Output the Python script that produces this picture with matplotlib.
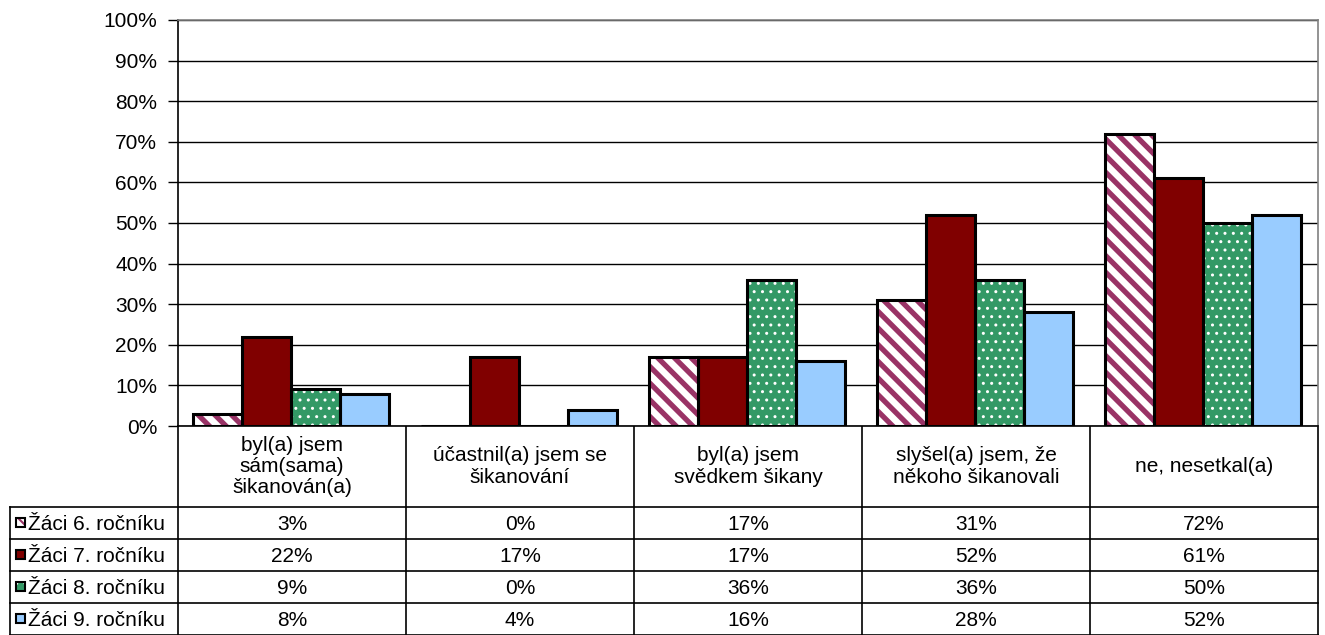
import numpy as np
import matplotlib.pyplot as plt
from matplotlib.patches import Rectangle
from matplotlib.ticker import FuncFormatter

plt.rcParams['font.family'] = ['Liberation Sans', 'DejaVu Sans']

categories = ['byl(a) jsem\nsám(sama)\nšikanován(a)',
              'účastnil(a) jsem se\nšikanování',
              'byl(a) jsem\nsvědkem šikany',
              'slyšel(a) jsem, že\nněkoho šikanovali',
              'ne, nesetkal(a)']
series_names = ['Žáci 6. ročníku', 'Žáci 7. ročníku', 'Žáci 8. ročníku', 'Žáci 9. ročníku']
zaci6 = [3, 0, 17, 31, 72]
zaci7 = [22, 17, 17, 52, 61]
zaci8 = [9, 0, 36, 36, 50]
zaci9 = [8, 4, 16, 28, 52]
yticks = list(range(0, 101, 10))

all_series = [zaci6, zaci7, zaci8, zaci9]
# style per series: face, hatch colour, hatch, hatch linewidth
styles = [('white', '#993366', '\\\\', 3.8),
          ('#800000', None, None, 0),
          ('#339966', 'white', '..', 1.0),
          ('#99CCFF', None, None, 0)]

FS = 15
W, H = 1325, 635
fig = plt.figure(figsize=(W / 100, H / 100), dpi=100)

# plot area in pixel units
L, R, T, B = 178, 1318, 20, 426
ax = fig.add_axes([L / W, 1 - B / H, (R - L) / W, (B - T) / H])


def styled_rect(axis, x, y, w, h, st, lw, z=3):
    face, hcol, hatch, hlw = st
    if hatch:
        p = Rectangle((x, y), w, h, facecolor=face, edgecolor=hcol,
                      hatch=hatch, linewidth=0, zorder=z)
        if hasattr(p, 'set_hatch_linewidth'):
            p.set_hatch_linewidth(min(hlw, 1.5))
        axis.add_patch(p)
        axis.add_patch(Rectangle((x, y), w, h, facecolor='none',
                                 edgecolor='black', linewidth=lw, zorder=z + 0.1))
    else:
        axis.add_patch(Rectangle((x, y), w, h, facecolor=face,
                                 edgecolor='black', linewidth=lw, zorder=z))


n = len(categories)
bw = 0.215
off = 0.066
x = np.arange(n)
for j, vals in enumerate(all_series):
    face, hcol, hatch, hlw = styles[j]
    if hatch:
        bars = ax.bar(x + off + j * bw, vals, bw, align='edge', color=face,
                      edgecolor=hcol, hatch=hatch, linewidth=0, zorder=3)
        for b in bars:
            if hasattr(b, 'set_hatch_linewidth'):
                b.set_hatch_linewidth(hlw)
        ax.bar(x + off + j * bw, vals, bw, align='edge', color='none',
               edgecolor='black', linewidth=2.2, zorder=3.1)
    else:
        ax.bar(x + off + j * bw, vals, bw, align='edge', color=face,
               edgecolor='black', linewidth=2.2, zorder=3)

ax.set_xlim(0, n)
ax.set_ylim(0, 100)
ax.set_yticks(yticks)
ax.yaxis.set_major_formatter(FuncFormatter(lambda v, p: '%d%%' % v))
ax.tick_params(axis='y', direction='out', length=7, width=1, pad=8, labelsize=FS)
ax.set_xticks([])
ax.grid(axis='y', color='black', linewidth=1, zorder=0)
ax.spines['top'].set_color('#808080')
ax.spines['right'].set_color('#808080')
ax.spines['left'].set_color('black')
ax.spines['bottom'].set_color('black')
for s in ax.spines.values():
    s.set_linewidth(1.2)

# data table below the chart, drawn on an overlay in pixel coordinates
tax = fig.add_axes([0, 0, 1, 1], zorder=-1)
tax.set_xlim(0, W)
tax.set_ylim(H, 0)
tax.axis('off')

col_edges = np.linspace(L, R, n + 1)
row_edges = [B, 507, 539, 571, 603, 635]
lab_left = 10
lc = 'black'
lw = 1.2

for cx in col_edges:
    tax.plot([cx, cx], [B, H], color=lc, linewidth=lw)
tax.plot([lab_left, lab_left], [row_edges[1], H], color=lc, linewidth=lw)
for ry in row_edges[1:]:
    tax.plot([lab_left, R], [ry, ry], color=lc, linewidth=lw)

for i, cat in enumerate(categories):
    cx = (col_edges[i] + col_edges[i + 1]) / 2
    tax.text(cx, (row_edges[0] + row_edges[1]) / 2, cat, ha='center',
             va='center', fontsize=FS, linespacing=1.15)

for j, (name, vals) in enumerate(zip(series_names, all_series)):
    cy = (row_edges[j + 1] + row_edges[j + 2]) / 2
    styled_rect(tax, 16, cy - 5, 9, 9, styles[j], 1.5)
    tax.text(28, cy + 1, name, ha='left', va='center', fontsize=FS)
    for i, v in enumerate(vals):
        cx = (col_edges[i] + col_edges[i + 1]) / 2
        tax.text(cx, cy + 1, '%d%%' % v, ha='center', va='center', fontsize=FS)

fig.savefig('out.png', dpi=100)
